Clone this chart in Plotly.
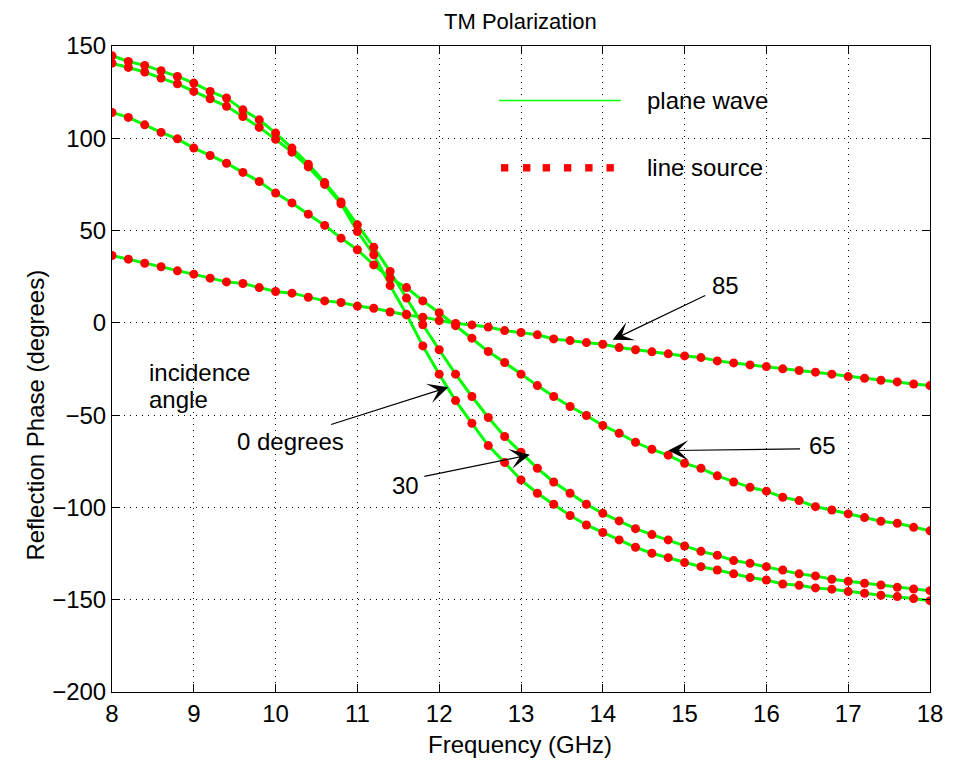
import plotly.graph_objects as go

# ---------------- data ----------------
freq = [8.0, 8.2, 8.4, 8.6, 8.8, 9.0, 9.2, 9.4, 9.6, 9.8,
        10.0, 10.2, 10.4, 10.6, 10.8, 11.0, 11.2, 11.4, 11.6, 11.8,
        12.0, 12.2, 12.4, 12.6, 12.8, 13.0, 13.2, 13.4, 13.6, 13.8,
        14.0, 14.2, 14.4, 14.6, 14.8, 15.0, 15.2, 15.4, 15.6, 15.8,
        16.0, 16.2, 16.4, 16.6, 16.8, 17.0, 17.2, 17.4, 17.6, 17.8,
        18.0]

phase_0deg = [140.7, 138.4, 135.9, 132.6, 129.5, 125.4, 121.4, 117.3, 111.8, 105.9,
              99.5, 92.5, 84.5, 75.0, 64.5, 49.5, 36.9, 20.2, 4.7, -12.5,
              -27.8, -42.1, -54.4, -66.5, -75.7, -85.1, -92.3, -98.3, -104.4, -109.5,
              -113.6, -117.6, -121.6, -124.8, -127.2, -129.9, -132.1, -133.9, -136.0, -138.0,
              -139.3, -141.5, -142.2, -143.6, -144.3, -145.6, -146.5, -147.6, -148.3, -149.4,
              -150.5]

phase_30deg = [144.7, 141.6, 139.5, 136.6, 133.5, 129.9, 125.4, 121.8, 115.4, 110.0,
               102.8, 94.7, 86.0, 76.0, 65.5, 53.1, 41.0, 27.8, 13.4, -1.0,
               -14.6, -27.8, -39.9, -51.3, -61.6, -70.1, -78.8, -86.2, -92.3, -98.3,
               -103.2, -107.3, -111.5, -114.7, -117.6, -120.9, -123.8, -125.9, -128.8, -130.3,
               -132.1, -133.9, -136.0, -137.1, -138.9, -140.0, -141.1, -142.0, -143.3, -144.2,
               -145.1]

phase_65deg = [114.0, 111.3, 107.3, 103.2, 99.7, 94.7, 90.7, 86.5, 81.5, 76.6,
               70.3, 65.0, 58.9, 52.8, 45.9, 39.6, 31.4, 24.2, 19.1, 11.9,
               5.5, -1.5, -8.3, -15.5, -21.5, -27.8, -34.0, -39.9, -45.3, -50.2,
               -55.6, -59.8, -64.7, -68.5, -71.7, -76.1, -78.8, -82.9, -86.2, -89.1,
               -91.2, -94.5, -96.3, -99.6, -101.4, -103.5, -105.5, -107.5, -108.6, -110.8,
               -112.7]

phase_85deg = [36.5, 34.5, 32.3, 30.4, 28.2, 26.4, 24.2, 22.2, 21.3, 19.1,
               17.0, 16.1, 13.9, 11.9, 11.0, 9.1, 7.9, 5.9, 4.3, 3.1,
               1.2, -0.3, -1.1, -2.3, -4.2, -5.2, -6.5, -8.7, -9.6, -10.7,
               -11.6, -13.4, -14.6, -15.7, -16.8, -17.9, -18.8, -20.6, -21.7, -22.8,
               -23.7, -24.9, -25.8, -26.7, -27.8, -29.1, -30.0, -31.1, -32.0, -33.1,
               -34.0]

series = [phase_0deg, phase_30deg, phase_65deg, phase_85deg]

x_ticks = [8, 9, 10, 11, 12, 13, 14, 15, 16, 17, 18]
y_ticks = [-200, -150, -100, -50, 0, 50, 100, 150]
y_ticktext = ["\u2212200", "\u2212150", "\u2212100", "\u221250", "0", "50", "100", "150"]

FONT = "Liberation Sans, Arial, Helvetica, sans-serif"
GREEN = "#00ff00"
RED = "#ff0000"

fig = go.Figure()

# plane wave (solid green lines)
for s in series:
    fig.add_trace(go.Scatter(x=freq, y=s, mode="lines",
                             line=dict(color=GREEN, width=3),
                             showlegend=False, hoverinfo="skip"))
# line source (red dots)
for s in series:
    fig.add_trace(go.Scatter(x=freq, y=s, mode="markers",
                             marker=dict(color=RED, size=9, line=dict(width=0)),
                             showlegend=False))

axis_common = dict(
    showline=True, linecolor="black", linewidth=1, mirror="ticks",
    ticks="inside", ticklen=8, tickwidth=1, tickcolor="black",
    showgrid=True, gridcolor="black", gridwidth=1, griddash="1px,5px",
    zeroline=False,
    tickfont=dict(family=FONT, size=24, color="black"),
)

fig.update_xaxes(range=[8, 18], tickvals=x_ticks, **axis_common)
fig.update_yaxes(range=[-200, 150], tickvals=y_ticks, ticktext=y_ticktext,
                 ticklabelstandoff=0, **axis_common)

# ---------------- custom legend ----------------
leg_y_line = 120.5
leg_y_dots = 84.0
fig.add_shape(type="line", xref="x", yref="y", x0=12.73, x1=14.22,
              y0=leg_y_line, y1=leg_y_line, line=dict(color=GREEN, width=1.5))
for cx in [12.80, 13.07, 13.31, 13.57, 13.83, 14.09]:
    fig.add_shape(type="rect", xref="x", yref="y",
                  x0=cx - 0.045, x1=cx + 0.045,
                  y0=leg_y_dots - 2.0, y1=leg_y_dots + 2.0,
                  line=dict(width=0), fillcolor=RED)

annos = []
def text_anno(x, y, t, xanchor="center", size=24):
    annos.append(dict(x=x, y=y, xref="x", yref="y", text=t, showarrow=False,
                      xanchor=xanchor, yanchor="middle",
                      font=dict(family=FONT, size=size, color="black")))

def arrow_anno(x_tip, y_tip, x_tail, y_tail):
    annos.append(dict(x=x_tip, y=y_tip, ax=x_tail, ay=y_tail,
                      xref="x", yref="y", axref="x", ayref="y",
                      text="", showarrow=True, arrowhead=3, arrowsize=2.8,
                      arrowwidth=1.2, arrowcolor="black", standoff=0,
                      font=dict(size=1)))

text_anno(14.51, leg_y_line, "plane wave", xanchor="left")
text_anno(14.51, leg_y_dots, "line source", xanchor="left")

text_anno(15.5, 20.0, "85")
arrow_anno(14.12, -9.2, 15.27, 15.2)

text_anno(16.69, -66.7, "65")
arrow_anno(14.80, -69.2, 16.43, -68.3)

text_anno(10.185, -64.5, "0 degrees")
arrow_anno(12.11, -34.9, 10.66, -55.3)

text_anno(11.585, -88.3, "30")
arrow_anno(13.108, -71.5, 11.80, -83.3)

text_anno(8.424, -27.1, "incidence", xanchor="left")
text_anno(8.424, -41.7, "angle", xanchor="left")

# titles
annos.append(dict(x=0.499, y=1.0379, xref="paper", yref="paper", text="TM Polarization",
                  showarrow=False, xanchor="center", yanchor="middle",
                  font=dict(family=FONT, size=22, color="black")))
annos.append(dict(x=0.499, y=-0.082, xref="paper", yref="paper", text="Frequency (GHz)",
                  showarrow=False, xanchor="center", yanchor="middle",
                  font=dict(family=FONT, size=24, color="black")))
annos.append(dict(x=-0.094, y=0.428, xref="paper", yref="paper",
                  text="Reflection Phase (degrees)", textangle=-90,
                  showarrow=False, xanchor="center", yanchor="middle",
                  font=dict(family=FONT, size=24, color="black")))

# page body has an 8px margin, so the figure is placed 8px in from the top-left
fig.update_layout(
    width=954, height=752,
    margin=dict(l=104, r=32, t=38, b=68, pad=0),
    paper_bgcolor="white", plot_bgcolor="white",
    annotations=annos,
    showlegend=False,
)

fig.write_html("out.html")
